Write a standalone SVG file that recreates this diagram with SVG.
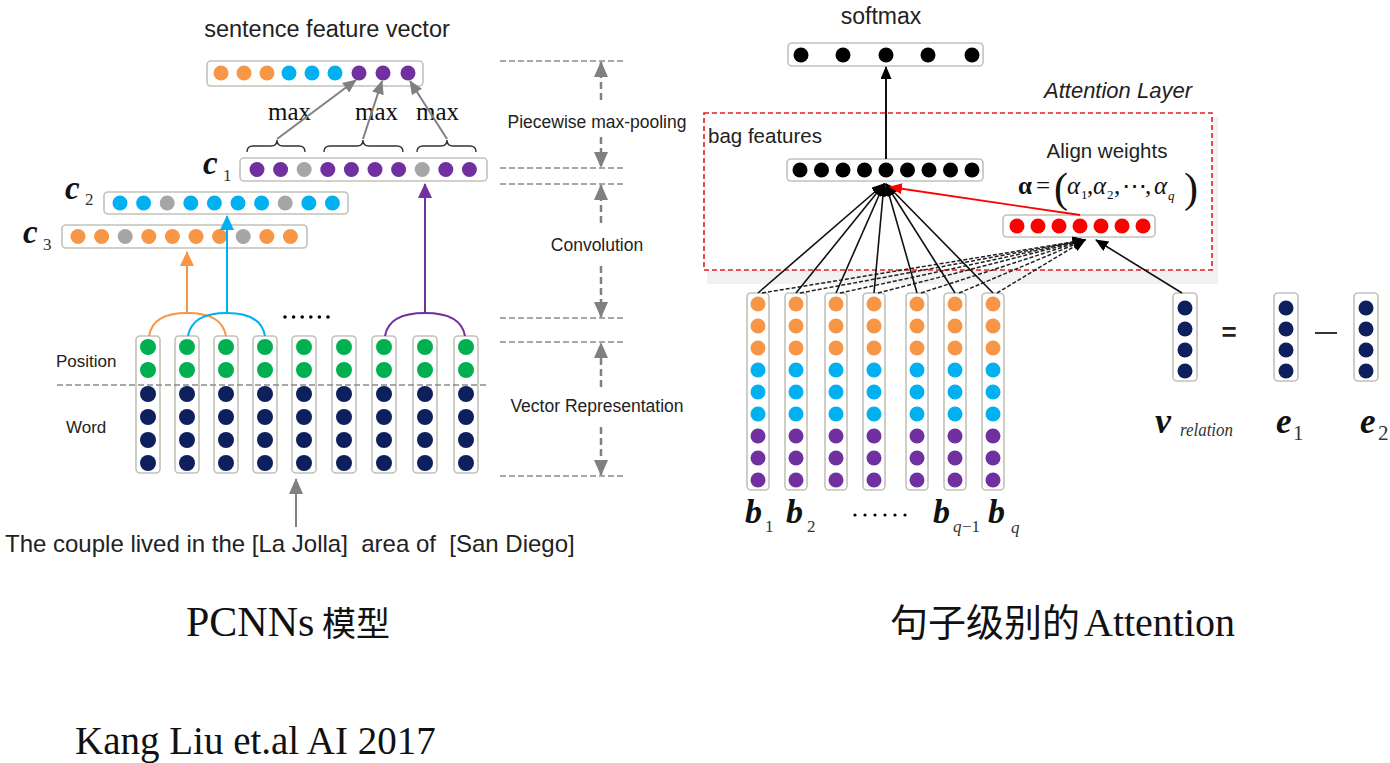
<svg xmlns="http://www.w3.org/2000/svg" xmlns:xlink="http://www.w3.org/1999/xlink" width="1390" height="763" viewBox="0 0 1390 763">
<style>
.box{fill:#fff;stroke:#C2C2BA;stroke-width:1.6}
.o{fill:#F79646}.b{fill:#00B0F0}.p{fill:#7030A0}.g{fill:#00B050}.n{fill:#0D1F5C}.gr{fill:#A6A6A6}.k{fill:#000}.r{fill:#FF0000}
.sans{font-family:"Liberation Sans",Arial,sans-serif;fill:#222}
.serif{font-family:"Liberation Serif","Times New Roman",serif;fill:#111}
.bi{font-family:"Liberation Serif","Times New Roman",serif;font-weight:bold;font-style:italic;fill:#111}
.sub{font-family:"Liberation Serif","Times New Roman",serif;fill:#333}
.gdash{stroke:#8A8A8A;stroke-width:1.6;stroke-dasharray:6,3;fill:none}
.garr{stroke:#808080;stroke-width:2.5;stroke-dasharray:7,4;fill:none}
.brace{stroke:#333;stroke-width:1.4;fill:none}
.fan{stroke:#111;stroke-width:1.6;fill:none}
.fand{stroke:#222;stroke-width:1.5;stroke-dasharray:4,2;fill:none}
</style>
<defs>
<marker id="mGrey" markerUnits="userSpaceOnUse" viewBox="0 0 14 12" refX="13" refY="6" markerWidth="14" markerHeight="12" orient="auto"><path d="M0,0 L14,6 L0,12 z" fill="#808080"/></marker>
<marker id="mGreyBig" markerUnits="userSpaceOnUse" viewBox="0 0 16 14" refX="15" refY="7" markerWidth="16" markerHeight="14" orient="auto"><path d="M0,0 L16,7 L0,14 z" fill="#808080"/></marker>
<marker id="mOrange" markerUnits="userSpaceOnUse" viewBox="0 0 15 14" refX="14" refY="7" markerWidth="15" markerHeight="14" orient="auto"><path d="M0,0 L15,7 L0,14 z" fill="#F79646"/></marker>
<marker id="mBlue" markerUnits="userSpaceOnUse" viewBox="0 0 15 14" refX="14" refY="7" markerWidth="15" markerHeight="14" orient="auto"><path d="M0,0 L15,7 L0,14 z" fill="#00B0F0"/></marker>
<marker id="mPurple" markerUnits="userSpaceOnUse" viewBox="0 0 15 14" refX="14" refY="7" markerWidth="15" markerHeight="14" orient="auto"><path d="M0,0 L15,7 L0,14 z" fill="#7030A0"/></marker>
<marker id="mBlack" markerUnits="userSpaceOnUse" viewBox="0 0 13 11" refX="12" refY="5.5" markerWidth="13" markerHeight="11" orient="auto"><path d="M0,0 L13,5.5 L0,11 z" fill="#000"/></marker>
<marker id="mRed" markerUnits="userSpaceOnUse" viewBox="0 0 13 11" refX="12" refY="5.5" markerWidth="13" markerHeight="11" orient="auto"><path d="M0,0 L13,5.5 L0,11 z" fill="#FF0000"/></marker>
<g id="wcol">
<rect class="box" x="-12" y="336" width="24" height="137" rx="4"/>
<circle class="g" cx="0" cy="347" r="8"/><circle class="g" cx="0" cy="370" r="8"/>
<circle class="n" cx="0" cy="394" r="8"/><circle class="n" cx="0" cy="417" r="8"/><circle class="n" cx="0" cy="440" r="8"/><circle class="n" cx="0" cy="463" r="8"/>
</g>
<g id="bcol">
<rect class="box" x="-11" y="293" width="22" height="197" rx="4"/>
<circle class="o" cx="0" cy="304" r="7.5"/><circle class="o" cx="0" cy="326" r="7.5"/><circle class="o" cx="0" cy="348" r="7.5"/>
<circle class="b" cx="0" cy="370" r="7.5"/><circle class="b" cx="0" cy="392" r="7.5"/><circle class="b" cx="0" cy="414" r="7.5"/>
<circle class="p" cx="0" cy="436" r="7.5"/><circle class="p" cx="0" cy="458" r="7.5"/><circle class="p" cx="0" cy="480" r="7.5"/>
</g>
<g id="ecol">
<rect class="box" x="-12" y="293" width="24" height="88" rx="4"/>
<circle class="n" cx="0" cy="308" r="7.5"/><circle class="n" cx="0" cy="329" r="7.5"/><circle class="n" cx="0" cy="350" r="7.5"/><circle class="n" cx="0" cy="371" r="7.5"/>
</g>
</defs>
<rect x="0" y="0" width="1390" height="763" fill="#fff"/>

<!-- ===== Left: PCNNs ===== -->
<g id="sentence-feature-vector">
<text class="sans" x="327" y="37" font-size="23.5" text-anchor="middle">sentence feature vector</text>
<rect class="box" x="207" y="61" width="216" height="25" rx="4"/>
<circle class="o" cx="221" cy="73" r="7.5"/><circle class="o" cx="244" cy="73" r="7.5"/><circle class="o" cx="267" cy="73" r="7.5"/>
<circle class="b" cx="289" cy="73" r="7.5"/><circle class="b" cx="312" cy="73" r="7.5"/><circle class="b" cx="335" cy="73" r="7.5"/>
<circle class="p" cx="359" cy="73" r="7.5"/><circle class="p" cx="383" cy="73" r="7.5"/><circle class="p" cx="408" cy="73" r="7.5"/>
</g>
<g id="max-labels">
<text class="serif" x="268" y="120" font-size="25" textLength="43" lengthAdjust="spacingAndGlyphs">max</text>
<text class="serif" x="355" y="120" font-size="25" textLength="43" lengthAdjust="spacingAndGlyphs">max</text>
<text class="serif" x="416" y="120" font-size="25" textLength="43" lengthAdjust="spacingAndGlyphs">max</text>
<path class="brace" d="M247,152 Q247,146 253,146 L271,146 Q277,146 277,140 Q277,146 283,146 L299,146 Q305,146 305,152"/>
<path class="brace" d="M324,152 Q324,146 330,146 L357,146 Q363,146 363,140 Q363,146 369,146 L397,146 Q403,146 403,152"/>
<path class="brace" d="M417,152 Q417,146 423,146 L441,146 Q447,146 447,140 Q447,146 453,146 L470,146 Q476,146 476,152"/>
</g>
<g id="c1">
<text x="203" y="174"><tspan class="bi" font-size="33">c</tspan><tspan class="sub" font-size="17" x="223" y="181">1</tspan></text>
<rect class="box" x="240" y="158" width="247" height="23" rx="4"/>
<circle class="p" cx="257" cy="169.5" r="7.5"/><circle class="p" cx="280.6" cy="169.5" r="7.5"/><circle class="gr" cx="304.2" cy="169.5" r="7.5"/>
<circle class="p" cx="327.8" cy="169.5" r="7.5"/><circle class="p" cx="351.4" cy="169.5" r="7.5"/><circle class="p" cx="375" cy="169.5" r="7.5"/>
<circle class="p" cx="398.6" cy="169.5" r="7.5"/><circle class="gr" cx="422.2" cy="169.5" r="7.5"/><circle class="p" cx="445.8" cy="169.5" r="7.5"/><circle class="p" cx="469.4" cy="169.5" r="7.5"/>
</g>
<g id="c2">
<text x="65" y="199"><tspan class="bi" font-size="33">c</tspan><tspan class="sub" font-size="17" x="85" y="205">2</tspan></text>
<rect class="box" x="104" y="192" width="244" height="22" rx="4"/>
<circle class="b" cx="120" cy="203" r="7.5"/><circle class="b" cx="143.6" cy="203" r="7.5"/><circle class="gr" cx="167.2" cy="203" r="7.5"/>
<circle class="b" cx="190.8" cy="203" r="7.5"/><circle class="b" cx="214.4" cy="203" r="7.5"/><circle class="b" cx="238" cy="203" r="7.5"/>
<circle class="b" cx="261.6" cy="203" r="7.5"/><circle class="gr" cx="285.2" cy="203" r="7.5"/><circle class="b" cx="308.8" cy="203" r="7.5"/><circle class="b" cx="332.4" cy="203" r="7.5"/>
</g>
<g id="c3">
<text x="23" y="243"><tspan class="bi" font-size="33">c</tspan><tspan class="sub" font-size="17" x="43" y="250">3</tspan></text>
<rect class="box" x="62" y="225" width="245" height="23" rx="4"/>
<circle class="o" cx="78" cy="236.5" r="7.5"/><circle class="o" cx="101.6" cy="236.5" r="7.5"/><circle class="gr" cx="125.2" cy="236.5" r="7.5"/>
<circle class="o" cx="148.8" cy="236.5" r="7.5"/><circle class="o" cx="172.4" cy="236.5" r="7.5"/><circle class="o" cx="196" cy="236.5" r="7.5"/>
<circle class="o" cx="219.6" cy="236.5" r="7.5"/><circle class="gr" cx="243.2" cy="236.5" r="7.5"/><circle class="o" cx="266.8" cy="236.5" r="7.5"/><circle class="o" cx="290.4" cy="236.5" r="7.5"/>
</g>
<g id="word-columns">
<use xlink:href="#wcol" href="#wcol" x="148"/>
<use xlink:href="#wcol" href="#wcol" x="187"/>
<use xlink:href="#wcol" href="#wcol" x="226"/>
<use xlink:href="#wcol" href="#wcol" x="265"/>
<use xlink:href="#wcol" href="#wcol" x="304"/>
<use xlink:href="#wcol" href="#wcol" x="344"/>
<use xlink:href="#wcol" href="#wcol" x="384"/>
<use xlink:href="#wcol" href="#wcol" x="425"/>
<use xlink:href="#wcol" href="#wcol" x="466"/>
<line class="gdash" x1="57" y1="385" x2="487" y2="385"/>
<text class="sans" x="56" y="367" font-size="17">Position</text>
<text class="sans" x="66" y="433" font-size="17">Word</text>
<g class="k"><circle cx="285" cy="317" r="1.8"/><circle cx="293.6" cy="317" r="1.8"/><circle cx="302.2" cy="317" r="1.8"/><circle cx="310.8" cy="317" r="1.8"/><circle cx="319.4" cy="317" r="1.8"/><circle cx="328" cy="317" r="1.8"/></g>
</g>
<g id="sentence">
<text class="sans" x="5" y="552" font-size="24" xml:space="preserve" style="white-space:pre" fill="#111">The couple lived in the [La Jolla]  area of  [San Diego]</text>
</g>

<!-- stage labels -->
<g id="stage-labels">
<line class="gdash" x1="500" y1="61" x2="625" y2="61"/>
<line class="gdash" x1="500" y1="168" x2="625" y2="168"/>
<line class="gdash" x1="500" y1="184" x2="625" y2="184"/>
<line class="gdash" x1="500" y1="318" x2="625" y2="318"/>
<line class="gdash" x1="500" y1="342" x2="625" y2="342"/>
<line class="gdash" x1="500" y1="476" x2="625" y2="476"/>
<text class="sans" x="597" y="128" font-size="17.5" text-anchor="middle">Piecewise max-pooling</text>
<text class="sans" x="597" y="251" font-size="17.5" text-anchor="middle">Convolution</text>
<text class="sans" x="597" y="412" font-size="17.5" text-anchor="middle">Vector Representation</text>
</g>

<!-- ===== Right: Attention ===== -->
<g id="attention-layer">
<rect x="707" y="117" width="511" height="167" fill="#F1F1F1"/>
<rect x="704" y="113" width="508" height="157" fill="#fff"/>
<rect x="704" y="113" width="508" height="157" fill="none" stroke="#E02020" stroke-width="1.6" stroke-dasharray="5,3"/>
<text class="sans" x="1044" y="98" font-size="22" font-style="italic" fill="#1a1a1a">Attention Layer</text>
</g>
<g id="softmax">
<text class="sans" x="881" y="24" font-size="23" text-anchor="middle">softmax</text>
<rect class="box" x="788" y="43" width="195" height="23" rx="4"/>
<circle class="k" cx="801" cy="55" r="7.5"/><circle class="k" cx="843" cy="55" r="7.5"/><circle class="k" cx="886" cy="55" r="7.5"/><circle class="k" cx="928" cy="55" r="7.5"/><circle class="k" cx="972" cy="55" r="7.5"/>
</g>
<g id="bag-features">
<text class="sans" x="708" y="143" font-size="20.5">bag features</text>
<rect class="box" x="787" y="159" width="196" height="22" rx="4"/>
<circle class="k" cx="800" cy="170" r="7.5"/><circle class="k" cx="821.5" cy="170" r="7.5"/><circle class="k" cx="843" cy="170" r="7.5"/><circle class="k" cx="864.5" cy="170" r="7.5"/><circle class="k" cx="886" cy="170" r="7.5"/><circle class="k" cx="907.5" cy="170" r="7.5"/><circle class="k" cx="929" cy="170" r="7.5"/><circle class="k" cx="950.5" cy="170" r="7.5"/><circle class="k" cx="972" cy="170" r="7.5"/>
</g>
<g id="align-weights">
<text class="sans" x="1107" y="158" font-size="20.5" text-anchor="middle">Align weights</text>
<text class="serif" font-size="25" y="194">
<tspan x="1018" font-weight="bold">α</tspan><tspan x="1036">=</tspan><tspan x="1054" font-size="42" y="202">(</tspan><tspan x="1067" y="194" font-style="italic">α</tspan><tspan x="1081" y="199" font-size="13">1</tspan><tspan x="1087" y="194">,</tspan><tspan x="1093" font-style="italic">α</tspan><tspan x="1107" y="199" font-size="13">2</tspan><tspan x="1114" y="194">,</tspan><tspan x="1122">⋯</tspan><tspan x="1145">,</tspan><tspan x="1154" font-style="italic">α</tspan><tspan x="1168" y="200" font-size="13" font-style="italic">q</tspan><tspan x="1184" font-size="42" y="202">)</tspan>
</text>
<rect class="box" x="1003" y="215" width="152" height="22" rx="4"/>
<circle class="r" cx="1017" cy="226" r="7.5"/><circle class="r" cx="1038" cy="226" r="7.5"/><circle class="r" cx="1059" cy="226" r="7.5"/><circle class="r" cx="1080" cy="226" r="7.5"/><circle class="r" cx="1101" cy="226" r="7.5"/><circle class="r" cx="1122" cy="226" r="7.5"/><circle class="r" cx="1143" cy="226" r="7.5"/>
</g>
<g id="bag-columns">
<use xlink:href="#bcol" href="#bcol" x="758"/>
<use xlink:href="#bcol" href="#bcol" x="796"/>
<use xlink:href="#bcol" href="#bcol" x="836"/>
<use xlink:href="#bcol" href="#bcol" x="874"/>
<use xlink:href="#bcol" href="#bcol" x="917"/>
<use xlink:href="#bcol" href="#bcol" x="955"/>
<use xlink:href="#bcol" href="#bcol" x="993"/>
<text x="745" y="523"><tspan class="bi" font-size="34">b</tspan><tspan class="sub" font-size="17" x="765" y="532">1</tspan></text>
<text x="786" y="523"><tspan class="bi" font-size="34">b</tspan><tspan class="sub" font-size="17" x="807" y="532">2</tspan></text>
<g class="k"><circle cx="855" cy="515" r="1.6"/><circle cx="865" cy="515" r="1.6"/><circle cx="875" cy="515" r="1.6"/><circle cx="885" cy="515" r="1.6"/><circle cx="895" cy="515" r="1.6"/><circle cx="905" cy="515" r="1.6"/></g>
<text x="933" y="523"><tspan class="bi" font-size="34">b</tspan><tspan class="sub" font-size="17" font-style="italic" x="953" y="532">q</tspan><tspan class="sub" font-size="17" x="962" y="532">−1</tspan></text>
<text x="988" y="523"><tspan class="bi" font-size="34">b</tspan><tspan class="sub" font-size="17" font-style="italic" x="1011" y="533">q</tspan></text>
</g>
<g id="v-relation">
<use xlink:href="#ecol" href="#ecol" x="1185"/>
<text x="1155" y="433"><tspan class="bi" font-size="36">v</tspan><tspan class="sub" font-size="19" font-style="italic" x="1180" y="436" textLength="53" lengthAdjust="spacingAndGlyphs">relation</tspan></text>
<text class="sans" x="1229" y="341" font-size="26" text-anchor="middle" font-weight="bold" fill="#333">=</text>
</g>
<g id="e1">
<use xlink:href="#ecol" href="#ecol" x="1286"/>
<text x="1276" y="433"><tspan class="bi" font-size="35">e</tspan><tspan class="sub" font-size="21" x="1293" y="440">1</tspan></text>
<line x1="1315" y1="333" x2="1337" y2="333" stroke="#333" stroke-width="2"/>
</g>
<g id="e2">
<use xlink:href="#ecol" href="#ecol" x="1366"/>
<text x="1360" y="433"><tspan class="bi" font-size="35">e</tspan><tspan class="sub" font-size="21" x="1378" y="440">2</tspan></text>
</g>

<!-- captions -->
<g id="captions">
<text class="serif" y="636" font-size="42"><tspan x="186">PCNNs</tspan><tspan x="322" font-size="34" font-family="'Noto Sans CJK SC',sans-serif">模型</tspan></text>
<text class="serif" y="636" font-size="40"><tspan x="890" font-size="38" font-family="'Noto Sans CJK SC',sans-serif">句子级别的</tspan><tspan x="1084">Attention</tspan></text>
<text class="serif" x="75" y="754" font-size="39">Kang Liu et.al AI 2017</text>
</g>

<!-- ===== connectors ===== -->
<g id="connectors">
<line x1="277" y1="139" x2="356" y2="80" stroke="#808080" stroke-width="2" marker-end="url(#mGrey)"/>
<line x1="363" y1="139" x2="382" y2="81" stroke="#808080" stroke-width="2" marker-end="url(#mGrey)"/>
<line x1="447" y1="139" x2="410" y2="81" stroke="#808080" stroke-width="2" marker-end="url(#mGrey)"/>
<path d="M149,336 C152,318 168,313 187,313 C206,313 223,318 226,336" fill="none" stroke="#F79646" stroke-width="2"/>
<line x1="187" y1="313" x2="187" y2="252" stroke="#F79646" stroke-width="2" marker-end="url(#mOrange)"/>
<path d="M188,336 C191,318 207,313 227,313 C246,313 262,318 265,336" fill="none" stroke="#00B0F0" stroke-width="2"/>
<line x1="227" y1="313" x2="227" y2="216" stroke="#00B0F0" stroke-width="2" marker-end="url(#mBlue)"/>
<path d="M385,336 C388,318 405,313 425,313 C445,313 462,318 465,336" fill="none" stroke="#7030A0" stroke-width="2"/>
<line x1="425" y1="313" x2="425" y2="184" stroke="#7030A0" stroke-width="2" marker-end="url(#mPurple)"/>
<line x1="296" y1="527" x2="296" y2="479" stroke="#808080" stroke-width="2" marker-end="url(#mGreyBig)"/>
<line class="garr" x1="601" y1="100" x2="601" y2="62" marker-end="url(#mGreyBig)"/>
<line class="garr" x1="601" y1="137" x2="601" y2="167" marker-end="url(#mGreyBig)"/>
<line class="garr" x1="601" y1="223" x2="601" y2="185" marker-end="url(#mGreyBig)"/>
<line class="garr" x1="601" y1="266" x2="601" y2="317" marker-end="url(#mGreyBig)"/>
<line class="garr" x1="601" y1="387" x2="601" y2="343" marker-end="url(#mGreyBig)"/>
<line class="garr" x1="601" y1="427" x2="601" y2="475" marker-end="url(#mGreyBig)"/>
<line class="fand" x1="762" y1="293" x2="1085" y2="240" marker-end="url(#mBlack)"/>
<line class="fand" x1="800" y1="293" x2="1085" y2="240" marker-end="url(#mBlack)"/>
<line class="fand" x1="840" y1="293" x2="1085" y2="240" marker-end="url(#mBlack)"/>
<line class="fand" x1="878" y1="293" x2="1085" y2="240" marker-end="url(#mBlack)"/>
<line class="fand" x1="921" y1="293" x2="1085" y2="240" marker-end="url(#mBlack)"/>
<line class="fand" x1="959" y1="293" x2="1085" y2="240" marker-end="url(#mBlack)"/>
<line class="fand" x1="997" y1="293" x2="1085" y2="240" marker-end="url(#mBlack)"/>
<line class="fan" x1="758" y1="293" x2="884" y2="184" marker-end="url(#mBlack)"/>
<line class="fan" x1="796" y1="293" x2="884" y2="184" marker-end="url(#mBlack)"/>
<line class="fan" x1="836" y1="293" x2="884" y2="184" marker-end="url(#mBlack)"/>
<line class="fan" x1="874" y1="293" x2="884" y2="184" marker-end="url(#mBlack)"/>
<line class="fan" x1="917" y1="293" x2="886" y2="184" marker-end="url(#mBlack)"/>
<line class="fan" x1="955" y1="293" x2="886" y2="184" marker-end="url(#mBlack)"/>
<line class="fan" x1="993" y1="293" x2="886" y2="184" marker-end="url(#mBlack)"/>
<line class="fan" x1="1182" y1="293" x2="1096" y2="240" marker-end="url(#mBlack)"/>
<line x1="1080" y1="215" x2="890" y2="187" stroke="#FF0000" stroke-width="1.8" marker-end="url(#mRed)"/>
<line x1="886" y1="159" x2="886" y2="67" stroke="#111" stroke-width="2" marker-end="url(#mBlack)"/>
</g>
</svg>
